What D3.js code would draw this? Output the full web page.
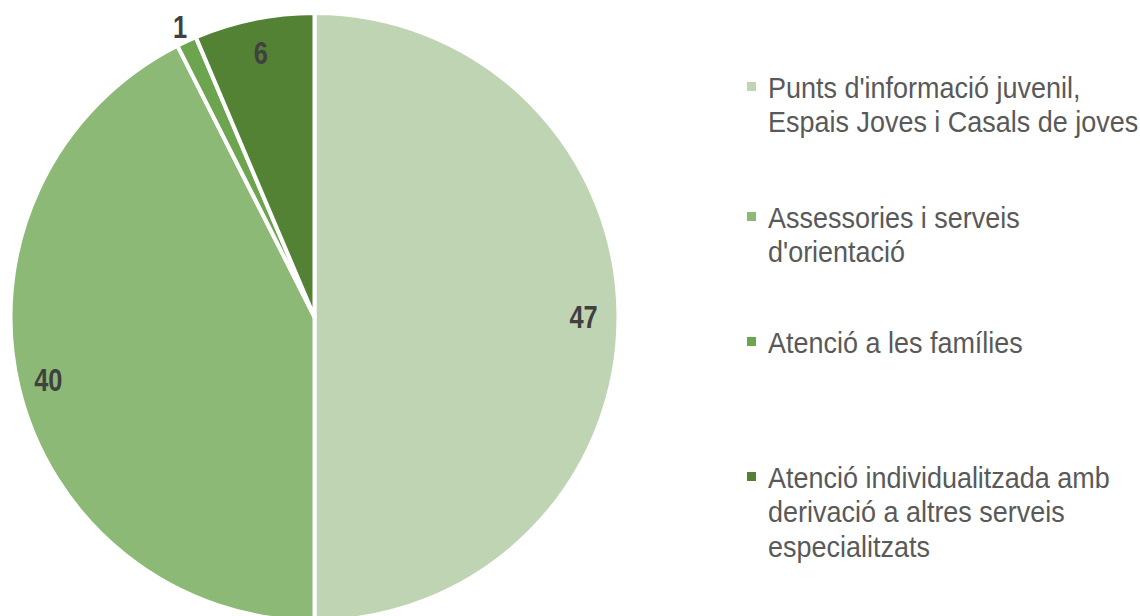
<!DOCTYPE html>
<html>
<head>
<meta charset="utf-8">
<script src="https://cdn.jsdelivr.net/npm/d3@7"></script>
<style>
  html, body { margin: 0; padding: 0; background: #fff; }
  svg { display: block; }
</style>
</head>
<body>
<svg id="chart" width="1140" height="616"></svg>
<script>
// Service categories (legend lines) and their counts
const categories = [
  ["Punts d'informació juvenil,", "Espais Joves i Casals de joves"],
  ["Assessories i serveis", "d'orientació"],
  ["Atenció a les famílies"],
  ["Atenció individualitzada amb", "derivació a altres serveis", "especialitzats"]
];
const values = [47, 40, 1, 6];
const colors = ["#bfd4b2", "#8cba76", "#6ca44f", "#548235"];

const svg = d3.select("#chart");
const font = "'Liberation Sans Narrow', 'Arial Narrow', 'Liberation Sans', Arial, sans-serif";
const narrow = 0.93; // slight horizontal squeeze for the legend face

const cx = 314.5, cy = 317, r = 304;
const pie = d3.pie().sort(null).value(d => d)(values);
const arc = d3.arc().innerRadius(0).outerRadius(r);

const g = svg.append("g").attr("transform", `translate(${cx},${cy})`);

g.selectAll("path.slice")
  .data(pie)
  .join("path")
  .attr("class", "slice")
  .attr("d", arc)
  .attr("fill", (d, i) => colors[i])
  .attr("stroke", "#fff")
  .attr("stroke-width", 4)
  .attr("stroke-linejoin", "round");

// Value labels: inside the slice, except the tiny slice which sits just outside
const labelRadius = [0.885, 0.9, 1.05, 0.885];
g.selectAll("text.val")
  .data(pie)
  .join("text")
  .attr("class", "val")
  .attr("transform", (d, i) => {
    const a = (d.startAngle + d.endAngle) / 2;
    const rr = r * labelRadius[i];
    return `translate(${Math.sin(a) * rr},${-Math.cos(a) * rr}) scale(0.82,1)`;
  })
  .attr("text-anchor", "middle")
  .attr("dominant-baseline", "central")
  .attr("font-family", font)
  .attr("font-weight", "bold")
  .attr("font-size", 31)
  .attr("fill", "#404040")
  .text(d => d.data);

// Legend
const legendX = 747, textX = 768, lineH = 34.5;
const baselines = [98, 228, 353, 488];
const leg = svg.append("g");
categories.forEach((lines, i) => {
  const b = baselines[i];
  leg.append("rect")
    .attr("x", legendX)
    .attr("y", b - 16)
    .attr("width", 9)
    .attr("height", 9)
    .attr("fill", colors[i]);
  const t = leg.append("text")
    .attr("transform", `translate(${textX},0) scale(${narrow},1)`)
    .attr("font-family", font)
    .attr("font-size", 29)
    .attr("fill", "#595959");
  lines.forEach((ln, j) => {
    t.append("tspan")
      .attr("x", 0)
      .attr("y", b + j * lineH)
      .text(ln);
  });
});
</script>
</body>
</html>
